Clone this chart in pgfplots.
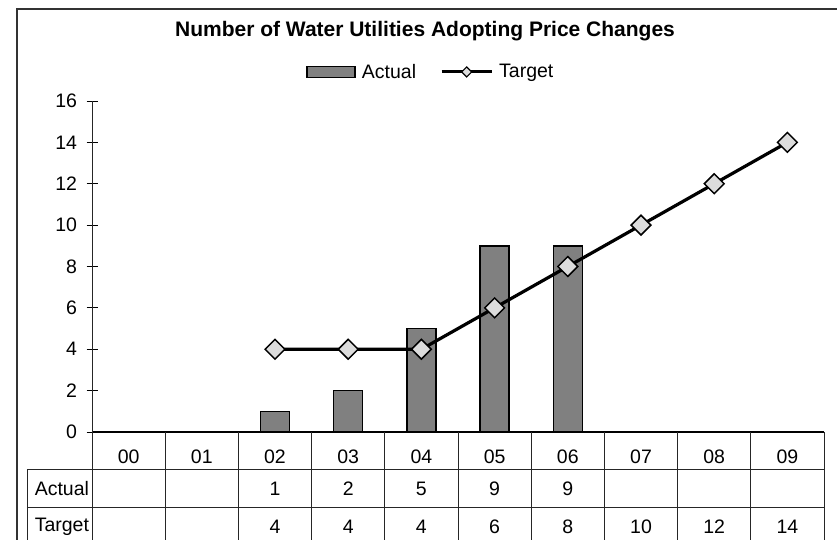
\documentclass[border=0pt]{standalone}
\usepackage{pgfplots}
\pgfplotsset{compat=1.18}
\usepackage{fontspec}
\setmainfont{Liberation Sans}
\definecolor{barfill}{HTML}{808080}
\definecolor{diafill}{HTML}{DCDCDC}
\newcommand{\tfont}{\fontsize{19.5}{23}\selectfont}
\begin{document}
\begin{tikzpicture}[x=1pt,y=1pt]
\useasboundingbox (0,0) rectangle (837,540);
\draw[line width=1.2pt, black!80] (17,-5) -- (17,531) -- (845,531);
\node[font=\fontsize{21}{25}\selectfont\bfseries] at (425,509) {Number of Water Utilities Adopting Price Changes};
\begin{axis}[
  at={(92pt,108pt)}, anchor=south west, scale only axis,
  width=732pt, height=331pt,
  xmin=-0.5, xmax=9.5, ymin=0, ymax=16,
  axis x line=bottom, axis y line=left,
  axis line style={-, line width=1pt, black!85},
  x axis line style={line width=1.8pt, black},
  clip=false,
  ytick={0,2,...,16}, ytick pos=left,
  tick align=center, major tick length=11pt,
  tick style={black, line width=0.9pt},
  xtick={0,...,9},
  xticklabels={00,01,02,03,04,05,06,07,08,09},
  every major x tick/.append style={draw=none},
  xticklabel style={anchor=center, yshift=-19pt},
  yticklabel style={xshift=-6pt},
  ticklabel style={font=\tfont},
  /pgf/number format/assume math mode=true,
  legend columns=2,
  legend style={at={(0.463,1.0877)}, anchor=center, draw=none, fill=none,
    font=\tfont,
    /tikz/every even column/.append style={column sep=22pt},
    /tikz/every odd column/.append style={column sep=4pt}},
]
\addplot[ybar, bar width=29pt, fill=barfill, draw=black, line width=1.5pt,
  legend image code/.code={\draw[fill=barfill, draw=black, line width=1.5pt] (0pt,-5.5pt) rectangle (48pt,5.5pt);}]
  coordinates {(2,1) (3,2) (4,5) (5,9) (6,9)};
\addlegendentry{Actual\vphantom{g}}
\addplot[black, line width=3.2pt, mark=square*, mark size=7pt,
  mark options={rotate=45, fill=diafill, draw=black, line width=1.5pt},
  legend image code/.code={\draw[black, line width=3pt] (0pt,0pt) -- (50pt,0pt);
    \draw[fill=diafill, draw=black, line width=1.2pt] (25pt,-5pt) -- (30pt,0pt) -- (25pt,5pt) -- (20pt,0pt) -- cycle;}]
  coordinates {(2,4) (3,4) (4,4) (5,6) (6,8) (7,10) (8,12) (9,14)};
\addlegendentry{Target}
% table rows
\addplot[forget plot, only marks, mark=*, mark size=0pt, mark options={draw=none, fill=none},
  point meta=explicit symbolic, nodes near coords,
  every node near coord/.append style={anchor=center, font=\tfont, inner sep=0pt}]
  table[meta=t] {
x y t
2 -2.75 1
3 -2.75 2
4 -2.75 5
5 -2.75 9
6 -2.75 9
2 -4.6 4
3 -4.6 4
4 -4.6 4
5 -4.6 6
6 -4.6 8
7 -4.6 10
8 -4.6 12
9 -4.6 14
};
\draw[line width=0.9pt, black!85] (axis cs:-1.388,-1.789) -- (axis cs:9.5,-1.789);
\draw[line width=0.9pt, black!85] (axis cs:-1.388,-3.625) -- (axis cs:9.5,-3.625);
\draw[line width=0.9pt, black!85] (axis cs:-1.388,-1.789) -- (axis cs:-1.388,-5.6);
\pgfplotsinvokeforeach{-0.5,0.5,1.5,2.5,3.5,4.5,5.5,6.5,7.5,8.5,9.5}{
  \draw[line width=0.9pt, black!85] (axis cs:#1,0) -- (axis cs:#1,-5.6);
}
\node[anchor=west, font=\tfont] at (axis cs:-1.33,-2.75) {Actual};
\node[anchor=west, font=\tfont] at (axis cs:-1.33,-4.6) {Target};
\end{axis}
\end{tikzpicture}
\end{document}
